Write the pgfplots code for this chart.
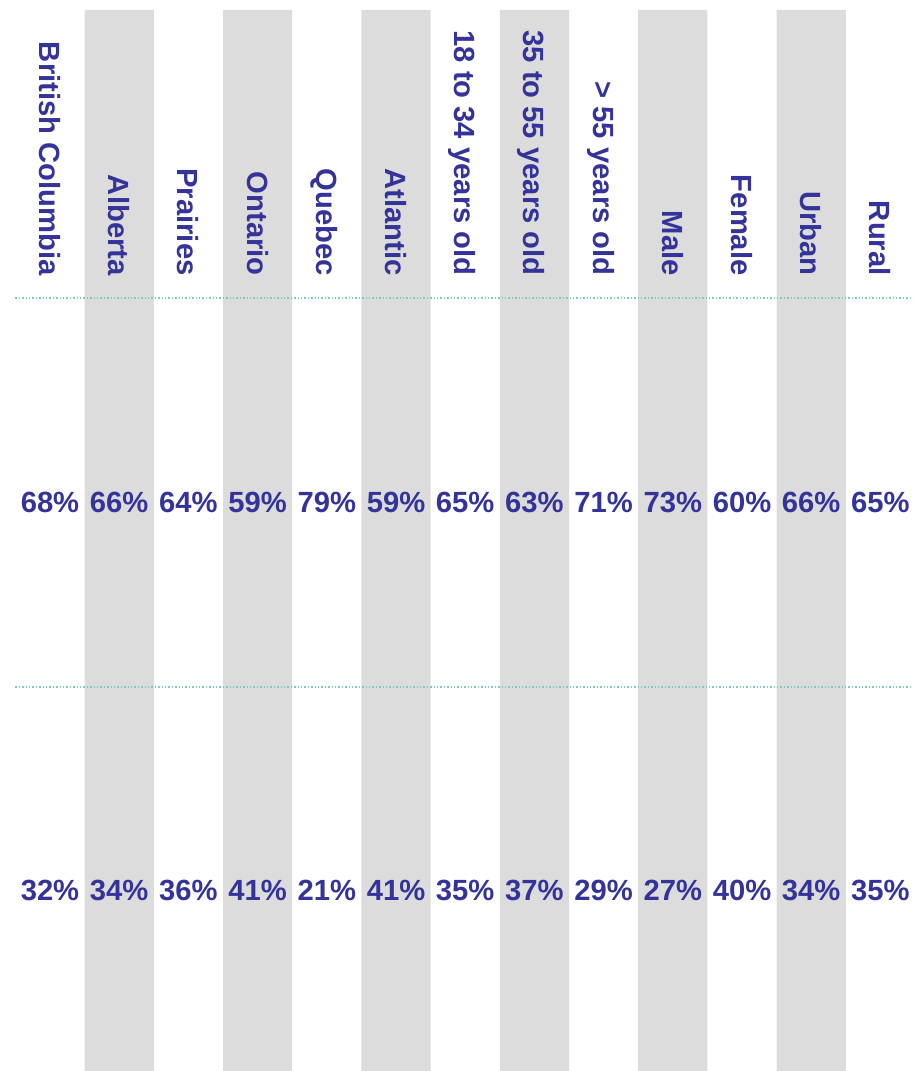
\documentclass[border=0pt]{standalone}
\usepackage{pgfplots}
\pgfplotsset{compat=1.18}
\usepackage{pgfplotstable}
\usepackage{fontspec}
\setmainfont{Liberation Sans}
\definecolor{txt}{HTML}{333399}
\definecolor{band}{HTML}{DCDCDC}
\definecolor{dotline}{HTML}{7FC8C8}

\pgfplotstableread[col sep=comma]{
x,label,top,bottom
0,British Columbia,68,32
1,Alberta,66,34
2,Prairies,64,36
3,Ontario,59,41
4,Quebec,79,21
5,Atlantic,59,41
6,18 to 34 years old,65,35
7,35 to 55 years old,63,37
8,> 55 years old,71,29
9,Male,73,27
10,Female,60,40
11,Urban,66,34
12,Rural,65,35
}\data

\begin{document}
\begin{tikzpicture}
\begin{axis}[
  scale only axis, width=457.5pt, height=535.5pt,
  xmin=-0.7225, xmax=12.5, ymin=0, ymax=1071,
  hide axis, clip=false,
]
\addplot[ybar, bar width=1, bar shift=0pt, fill=band, draw=none]
  coordinates {(1,1061)(3,1061)(5,1061)(7,1061)(9,1061)(11,1061)};
\addplot[dotline, densely dotted, line width=0.7pt, mark=none] coordinates {(-0.5,773)(12.45,773)};
\addplot[dotline, densely dotted, line width=0.7pt, mark=none] coordinates {(-0.5,384)(12.45,384)};
\addplot[draw=none, mark=none, point meta=explicit symbolic,
  nodes near coords={\pgfplotspointmeta\%},
  every node near coord/.append style={anchor=center, inner sep=0pt, text=txt,
    font=\fontsize{14.6}{17}\selectfont\bfseries}]
  table[x=x, y expr=569, meta=top] {\data};
\addplot[draw=none, mark=none, point meta=explicit symbolic,
  nodes near coords={\pgfplotspointmeta\%},
  every node near coord/.append style={anchor=center, inner sep=0pt, text=txt,
    font=\fontsize{14.6}{17}\selectfont\bfseries}]
  table[x=x, y expr=181, meta=bottom] {\data};
\addplot[draw=none, mark=none, point meta=explicit symbolic,
  nodes near coords,
  every node near coord/.append style={rotate=-90, anchor=east, inner sep=0pt,
    text depth=0pt, text=txt, font=\fontsize{14.6}{17}\selectfont\bfseries}]
  table[x=x, y expr=795, meta=label] {\data};
\end{axis}
\pgfresetboundingbox
\path (current axis.south west) rectangle (current axis.north east);
\end{tikzpicture}
\end{document}
